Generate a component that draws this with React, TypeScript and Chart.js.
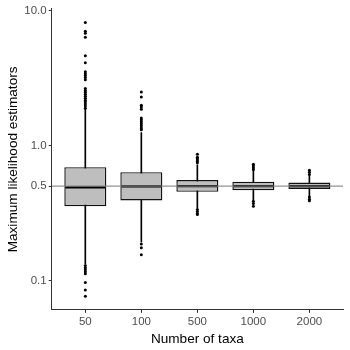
import React, { useEffect, useRef } from "react";
import { Chart, registerables } from "chart.js";

Chart.register(...registerables);

const categories = ["50", "100", "500", "1000", "2000"];
const q1 = [0.355, 0.392, 0.454, 0.467, 0.477];
const medians = [0.49, 0.498, 0.5, 0.5, 0.5];
const q3 = [0.691, 0.635, 0.555, 0.54, 0.531];
const whiskerLow = [0.133, 0.193, 0.345, 0.397, 0.424];
const whiskerHigh = [1.86, 1.25, 0.72, 0.657, 0.597];
const outliers50 = [
  8.17, 7.03, 6.79, 6.35, 4.62, 4.1, 3.53, 3.41, 3.3, 3.19, 3.08, 2.65, 2.56,
  2.48, 2.4, 2.32, 2.24, 2.17, 2.1, 2.03, 1.96, 1.89, 0.129, 0.124, 0.12,
  0.116, 0.112, 0.0967, 0.085, 0.0765,
];
const outliers100 = [
  2.49, 2.29, 1.99, 1.93, 1.86, 1.6, 1.55, 1.5, 1.45, 1.4, 1.35, 1.31, 0.186,
  0.175, 0.155,
];
const outliers500 = [0.86, 0.82, 0.8, 0.78, 0.76, 0.745, 0.336, 0.324, 0.314, 0.308];
const outliers1000 = [0.727, 0.705, 0.685, 0.665, 0.386, 0.372, 0.355];
const outliers2000 = [0.657, 0.635, 0.61, 0.415, 0.4, 0.39];
const outlierGroups = [outliers50, outliers100, outliers500, outliers1000, outliers2000];
const referenceValue = 0.5;
const yTicks = [0.1, 0.5, 1, 10];
const boxWidth = 0.75;

export default function App() {
  const ref = useRef<HTMLCanvasElement | null>(null);
  useEffect(() => {
    if (!ref.current) return;
    const overlay = {
      id: "overlay",
      afterDatasetsDraw(chart: any) {
        const { ctx, scales, chartArea } = chart;
        const x = scales.x;
        const y = scales.y;
        ctx.save();
        ctx.beginPath();
        ctx.rect(chartArea.left, chartArea.top, chartArea.right - chartArea.left, chartArea.bottom - chartArea.top);
        ctx.clip();
        ctx.strokeStyle = "#000000";
        ctx.lineWidth = 2.4;
        medians.forEach((m, i) => {
          const x0 = x.getPixelForValue(i - boxWidth / 2);
          const x1 = x.getPixelForValue(i + boxWidth / 2);
          const py = y.getPixelForValue(m);
          ctx.beginPath();
          ctx.moveTo(x0 + 1, py);
          ctx.lineTo(x1 - 1, py);
          ctx.stroke();
        });
        const ry = y.getPixelForValue(referenceValue);
        ctx.strokeStyle = "rgba(128,128,128,0.85)";
        ctx.lineWidth = 1.3;
        ctx.beginPath();
        ctx.moveTo(chartArea.left, ry);
        ctx.lineTo(chartArea.right, ry);
        ctx.stroke();
        ctx.restore();
      },
    };
    const outlierPoints: { x: number; y: number }[] = [];
    outlierGroups.forEach((g, i) => g.forEach((v) => outlierPoints.push({ x: i, y: v })));
    const chart = new Chart(ref.current, {
      type: "bar",
      data: {
        datasets: [
          {
            type: "bar",
            label: "whiskers",
            data: categories.map((_, i) => ({ x: i, y: [whiskerLow[i], whiskerHigh[i]] })) as any,
            backgroundColor: "#000000",
            borderWidth: 0,
            barThickness: 1,
            grouped: false,
            order: 3,
          } as any,
          {
            type: "bar",
            label: "boxes",
            data: categories.map((_, i) => ({ x: i, y: [q1[i], q3[i]] })) as any,
            backgroundColor: "#BEBEBE",
            borderColor: "#111111",
            borderWidth: 1.4,
            borderSkipped: false,
            categoryPercentage: boxWidth,
            barPercentage: 1,
            grouped: false,
            order: 2,
          } as any,
          {
            type: "scatter",
            label: "outliers",
            data: outlierPoints,
            backgroundColor: "#000000",
            borderColor: "#000000",
            pointRadius: 1.5,
            borderWidth: 0,
            order: 1,
          } as any,
        ],
      },
      options: {
        animation: false,
        responsive: false,
        maintainAspectRatio: false,
        layout: { padding: { left: 5, right: 7, top: 0, bottom: 3 } },
        plugins: { legend: { display: false }, tooltip: { enabled: false } },
        scales: {
          x: {
            type: "linear",
            min: -0.6,
            max: 4.6,
            offset: false,
            afterBuildTicks: (axis: any) => {
              axis.ticks = categories.map((_, i) => ({ value: i }));
            },
            ticks: {
              autoSkip: false,
              maxRotation: 0,
              padding: 2,
              color: "#4D4D4D",
              font: { family: "'Liberation Sans', Arial, sans-serif", size: 11.5 },
              callback: (v: any) => categories[Math.round(Number(v))],
            },
            grid: { display: true, offset: false, drawOnChartArea: false, drawTicks: true, tickLength: 3, color: "#333333" },
            border: { display: true, color: "#333333", width: 1 },
            title: {
              display: true,
              text: "Number of taxa",
              color: "#000000",
              padding: { top: 0, bottom: 0 },
              font: { family: "'Liberation Sans', Arial, sans-serif", size: 13.6 },
            },
          },
          y: {
            type: "logarithmic",
            min: 0.0605,
            max: 10.3,
            afterBuildTicks: (axis: any) => {
              axis.ticks = yTicks.map((v) => ({ value: v }));
            },
            ticks: {
              autoSkip: false,
              padding: 2,
              color: "#4D4D4D",
              font: { family: "'Liberation Sans', Arial, sans-serif", size: 11.5 },
              callback: (v: any) => Number(v).toFixed(1),
            },
            grid: { display: true, offset: false, drawOnChartArea: false, drawTicks: true, tickLength: 3, color: "#333333" },
            border: { display: true, color: "#333333", width: 1 },
            title: {
              display: true,
              text: "Maximum likelihood estimators",
              color: "#000000",
              padding: { top: 0, bottom: 1 },
              font: { family: "'Liberation Sans', Arial, sans-serif", size: 13.6 },
            },
          },
        },
      },
      plugins: [overlay],
    });
    return () => chart.destroy();
  }, []);
  return (
    <div style={{ position: "fixed", left: 0, top: 0, width: 350, height: 350, background: "#ffffff" }}>
      <canvas ref={ref} width={350} height={350} style={{ width: 350, height: 350 }} />
    </div>
  );
}
